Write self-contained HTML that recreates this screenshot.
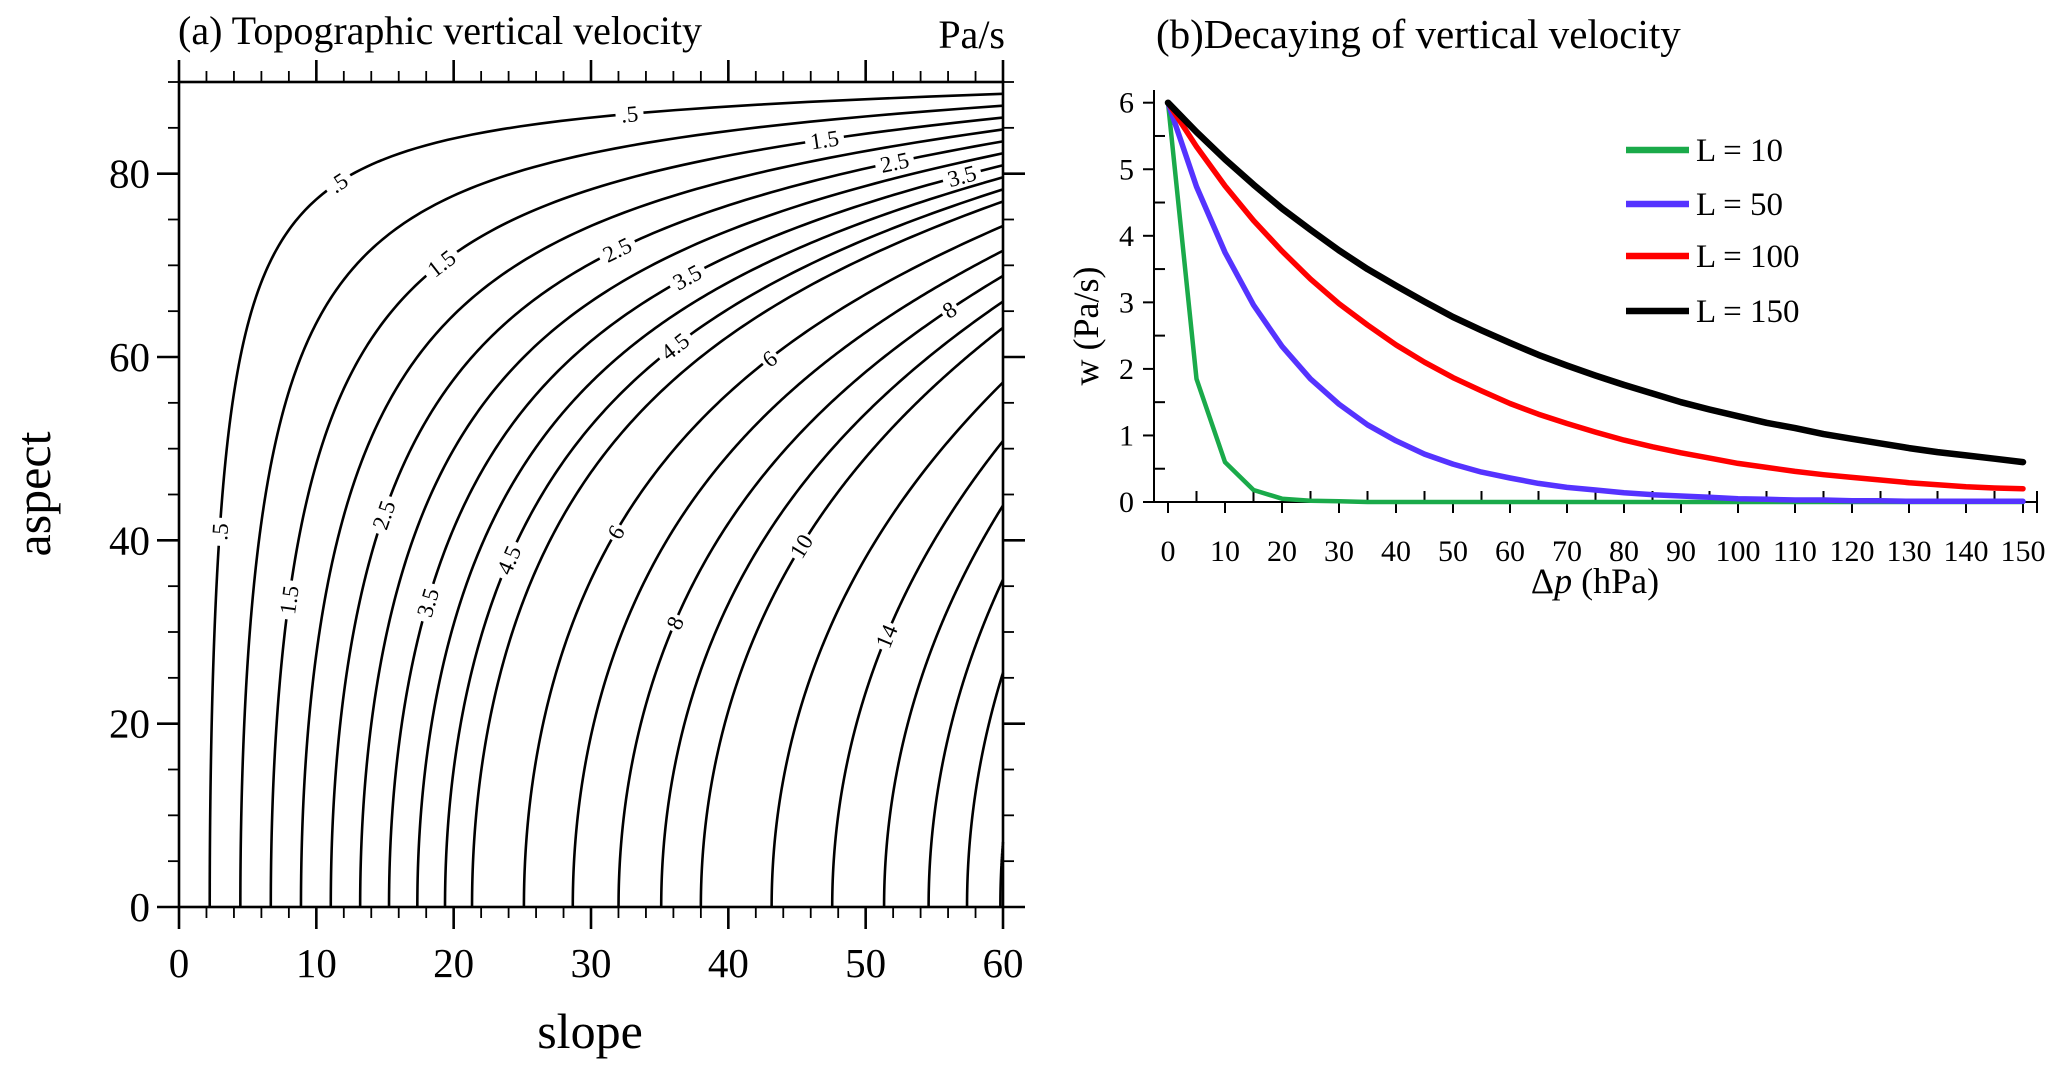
<!DOCTYPE html>
<html><head><meta charset="utf-8"><style>
html,body{margin:0;padding:0;background:#fff}
svg{display:block;font-family:"Liberation Serif",serif}
</style></head><body>
<svg id="fig" width="2067" height="1079" viewBox="0 0 2067 1079" xmlns="http://www.w3.org/2000/svg">
<g id="pa"></g>
<g id="pb"></g>
</svg>
<script>
// ---- Panel A data ----
const contourLevels = [0.5,1,1.5,2,2.5,3,3.5,4,4.5,5,6,7,8,9,10,12,14,16,18,20,22];
const fieldCoef = 12.8;
const labelLevels = [0.5,1.5,2.5,3.5,4.5,6,8,10,14, 0.5,0.5,1.5,1.5,2.5,2.5,3.5,3.5,4.5,6,8];
const labelSlopes = [2.96,8.0,14.9,18.1,24.0,31.8,36.1,45.3,51.5, 32.8,11.6,47,19.1,52.1,31.9,57,37,36.1,43,56.1];
const slopeTicks = [0,10,20,30,40,50,60];
const aspectTicks = [0,20,40,60,80];
// ---- Panel B data ----
const dpValues = [0,5,10,15,20,25,30,35,40,45,50,55,60,65,70,75,80,85,90,95,100,105,110,115,120,125,130,135,140,145,150];
const wL10 = [6,1.85,0.6,0.18,0.05,0.02,0.01,0,0,0,0,0,0,0,0,0,0,0,0,0,0,0,0,0,0,0,0,0,0,0,0];
const wL50 = [6,4.74,3.75,2.96,2.34,1.85,1.47,1.16,0.92,0.72,0.57,0.45,0.36,0.28,0.22,0.18,0.14,0.11,0.09,0.07,0.05,0.04,0.03,0.03,0.02,0.02,0.01,0.01,0.01,0.01,0.01];
const wL100 = [6,5.34,4.75,4.23,3.77,3.35,2.98,2.66,2.36,2.10,1.87,1.67,1.48,1.32,1.18,1.05,0.93,0.83,0.74,0.66,0.58,0.52,0.46,0.41,0.37,0.33,0.29,0.26,0.23,0.21,0.20];
const wL150 = [6,5.56,5.15,4.77,4.41,4.09,3.78,3.50,3.25,3.01,2.78,2.58,2.39,2.21,2.05,1.90,1.76,1.63,1.50,1.39,1.29,1.19,1.11,1.02,0.95,0.88,0.81,0.75,0.70,0.65,0.60];
const seriesNames = ["L = 10","L = 50","L = 100","L = 150"];
const xTicksB = [0,10,20,30,40,50,60,70,80,90,100,110,120,130,140,150];
const yTicksB = [0,1,2,3,4,5,6];

const NS="http://www.w3.org/2000/svg";
function mk(parent,tag,attrs,text){const e=document.createElementNS(NS,tag);for(const k in attrs)e.setAttribute(k,attrs[k]);if(text!==undefined)e.textContent=text;parent.appendChild(e);return e;}

// ===== Panel A =====
const pa=document.getElementById('pa');
const ax0=179, ax1=1003, ay0=907, ay1=82;
const sx=s=>ax0+(s/60)*(ax1-ax0);
const sy=a=>ay0-(a/90)*(ay0-ay1);
const R=Math.PI/180;
function aspectAt(v,s){const r=v/(fieldCoef*Math.tan(s*R));return r>=1?0:Math.acos(r)/R;}

const cg=mk(pa,'g',{});


contourLevels.forEach(v=>{
  let amax=Math.acos(Math.min(1,v/(fieldCoef*Math.tan(60*R))))/R;
  let pts=[];
  for(let i=0;i<=300;i++){const a=amax*i/300;const s=Math.atan(v/(fieldCoef*Math.cos(a*R)))/R;pts.push(sx(s).toFixed(2)+','+sy(a).toFixed(2));}
  const p=mk(cg,'polyline',{points:pts.join(' '),fill:'none',stroke:'#000','stroke-width':2.6});
  
  
});
const lg=mk(pa,'g',{});


labelLevels.forEach((v,i)=>{
  const s=labelSlopes[i];const a=aspectAt(v,s);
  const x=sx(s),y=sy(a);
  const a2=aspectAt(v,s+0.3),a1=aspectAt(v,s-0.3);
  let ang=Math.atan2(sy(a2)-sy(a1),sx(s+0.3)-sx(s-0.3))/R;
  if(ang>90)ang-=180; if(ang<-90)ang+=180;
  const txt=(v<1?String(v).replace('0.','.'):String(v));
  const g=mk(lg,'g',{transform:`translate(${x.toFixed(1)},${y.toFixed(1)}) rotate(${ang.toFixed(1)})`});
  const w=txt.length*11+6;
  mk(g,'rect',{x:-w/2,y:-11,width:w,height:22,fill:'#fff'});
  const t=mk(g,'text',{x:0,y:8,'font-size':23,'text-anchor':'middle'},txt);
  
  
});
// frame & ticks
const fa=mk(pa,'g',{stroke:'#000','stroke-width':2.6});


mk(fa,'rect',{x:ax0,y:ay1,width:ax1-ax0,height:ay0-ay1,fill:'none'});
for(let s=0;s<=60;s+=2){const maj=s%10===0;const L=maj?22:11;const x=sx(s);
  mk(fa,'line',{x1:x,y1:ay0,x2:x,y2:ay0+L,'stroke-width':maj?2.6:1.8});
  mk(fa,'line',{x1:x,y1:ay1,x2:x,y2:ay1-L,'stroke-width':maj?2.6:1.8});}
for(let a=0;a<=90;a+=5){const maj=a%20===0;const L=maj?22:11;const y=sy(a);
  mk(fa,'line',{x1:ax0,y1:y,x2:ax0-L,y2:y,'stroke-width':maj?2.6:1.8});
  mk(fa,'line',{x1:ax1,y1:y,x2:ax1+L,y2:y,'stroke-width':maj?2.6:1.8});}
slopeTicks.forEach(s=>{const t=mk(pa,'text',{x:sx(s),y:977,'font-size':41,'text-anchor':'middle'},s);
  
  });
aspectTicks.forEach(a=>{const t=mk(pa,'text',{x:150,y:sy(a)+14,'font-size':41,'text-anchor':'end'},a);
  
  });
let t;
t=mk(pa,'text',{x:590,y:1048,'font-size':50,'text-anchor':'middle'},'slope');

t=mk(pa,'text',{x:0,y:0,'font-size':50,'text-anchor':'middle',transform:'translate(50,494) rotate(-90)'},'aspect');

t=mk(pa,'text',{x:178,y:44,'font-size':40},'(a) Topographic vertical velocity');

t=mk(pa,'text',{x:1005,y:48,'font-size':40,'text-anchor':'end'},'Pa/s');


// ===== Panel B =====
const pb=document.getElementById('pb');
const bx0=1168,bx1=2023,by0=502,by1=102.7;
const px=d=>bx0+(d/150)*(bx1-bx0);
const py=w=>by0-(w/6)*(by0-by1);
const fb=mk(pb,'g',{stroke:'#000','stroke-width':2});


mk(fb,'line',{x1:1154,y1:90,x2:1154,y2:by0});
mk(fb,'line',{x1:1143,y1:by0,x2:2037,y2:by0});
mk(fb,'line',{x1:2037,y1:by0-11,x2:2037,y2:by0+11});
for(let d=0;d<=150;d+=5){const x=px(d);
  if(d%10===0) mk(fb,'line',{x1:x,y1:by0,x2:x,y2:by0+11}); else mk(fb,'line',{x1:x,y1:by0,x2:x,y2:by0-11});}
for(let w=0;w<=6;w+=0.5){const y=py(w);
  if(Number.isInteger(w)) mk(fb,'line',{x1:1154,y1:y,x2:1143,y2:y}); else mk(fb,'line',{x1:1154,y1:y,x2:1165,y2:y});}
xTicksB.forEach(d=>{const t=mk(pb,'text',{x:px(d),y:561,'font-size':30,'text-anchor':'middle'},d);
  });
yTicksB.forEach(w=>{const t=mk(pb,'text',{x:1134,y:py(w)+10,'font-size':30,'text-anchor':'end'},w);
  });
const series=[wL10,wL50,wL100,wL150];
const colors=['#1aaa4a','#5533ff','#ff0000','#000000'];
const widths=[4.5,5.5,5.5,6.5];
const sg=mk(pb,'g',{});
series.forEach((arr,k)=>{
  const pts=dpValues.map((d,i)=>px(d).toFixed(1)+','+py(arr[i]).toFixed(1)).join(' ');
  const p=mk(sg,'polyline',{points:pts,fill:'none',stroke:colors[k],'stroke-width':widths[k],'stroke-linejoin':'round','stroke-linecap':'round'});
  
  
});
const legY=[150,204,256,311];
seriesNames.forEach((n,k)=>{
  const g=mk(pb,'g',{});
  
  
  mk(g,'line',{x1:1626,y1:legY[k],x2:1689,y2:legY[k],stroke:colors[k],'stroke-width':6.5});
  mk(g,'text',{x:1696,y:legY[k]+11,'font-size':33},n);
});
t=mk(pb,'text',{x:1156,y:48,'font-size':41},'(b)Decaying of vertical velocity');

t=mk(pb,'text',{x:0,y:0,'font-size':36,'text-anchor':'middle',transform:'translate(1098,326) rotate(-90)'},'w (Pa/s)');

t=mk(pb,'text',{x:1595,y:593,'font-size':36,'text-anchor':'middle'});

t.setAttribute('xml:space','preserve');
t.innerHTML='Δ<tspan font-style="italic">p</tspan>   (hPa)';
</script>
</body></html>
